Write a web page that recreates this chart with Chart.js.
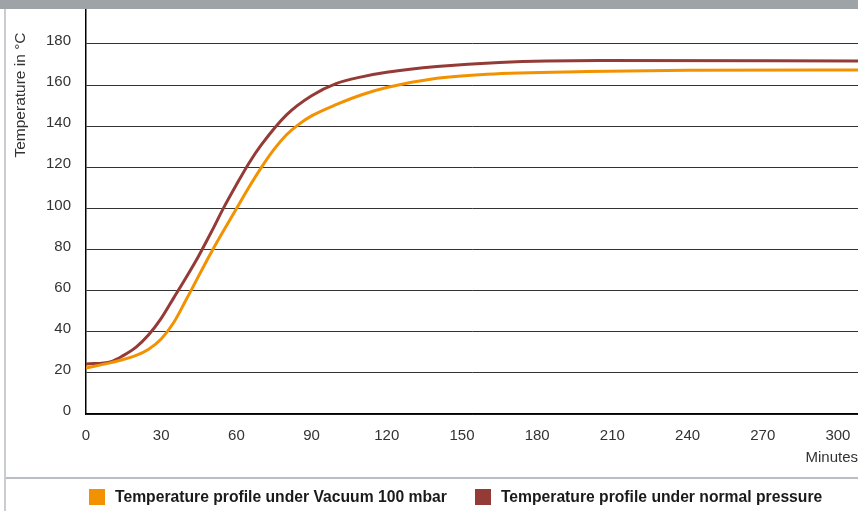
<!DOCTYPE html>
<html>
<head>
<meta charset="utf-8">
<title>Temperature profile</title>
<script src="https://cdn.jsdelivr.net/npm/chart.js@4/dist/chart.umd.min.js"></script>
<style>
  body { margin:0; width:858px; height:511px; overflow:hidden; background:#fff; position:relative;
         font-family:"Liberation Sans", Arial, sans-serif; }
  #topBar { position:absolute; left:0; top:0; width:858px; height:9px; background:#9ea3a8; }
  #leftRule { position:absolute; left:4px; top:9px; width:2px; height:502px; background:#c9ccd0; z-index:2; }
  #myChart { position:absolute; left:0; top:9px; }
  #legendBox { position:absolute; left:6px; top:477px; width:852px; height:32px; border-top:2px solid #babec2;
               display:flex; align-items:flex-start; padding-top:10px; padding-left:83px; box-sizing:border-box; }
  .legItem { display:flex; align-items:center; font-weight:bold; font-size:15.7px; color:#1a1a1a; line-height:16px; }
  .legItem + .legItem { margin-left:28px; }
  .legItem .box { width:16px; height:16px; margin-right:10px; }
</style>
</head>
<body>
<div id="topBar"></div>
<canvas id="myChart" width="858" height="469"></canvas>
<div id="leftRule"></div>
<div id="legendBox"></div>

<script>
// tick labels
const xTicks = [0, 30, 60, 90, 120, 150, 180, 210, 240, 270, 300];
const yTicks = [0, 20, 40, 60, 80, 100, 120, 140, 160, 180];

const seriesNames = ["Temperature profile under Vacuum 100 mbar", "Temperature profile under normal pressure"];
const seriesColors = ["#f39200", "#943b37"];
const yAxisTitle = "Temperature in °C";
const xAxisTitle = "Minutes";

// vacuum 100 mbar
const vacuumMinutes = [0, 10, 20, 25, 30, 35, 40, 50, 60, 65, 70, 75, 80, 85, 90, 100, 110, 120, 140, 160, 200, 240, 308];
const vacuumTemps   = [22.4, 25.0, 28.5, 31.5, 36.5, 44.5, 55.7, 78.7, 99.8, 110.3, 120.0, 128.7, 135.8, 141.0, 145.0, 150.6, 155.3, 158.8, 163.3, 165.3, 166.6, 167.2, 167.3];

// normal pressure
const normalMinutes = [0, 10, 15, 20, 25, 30, 35, 40, 45, 50, 55, 60, 65, 70, 80, 90, 100, 110, 120, 140, 165, 205, 308];
const normalTemps   = [24.3, 25.5, 28.5, 32.5, 38.5, 46.5, 56.5, 66.5, 77.0, 88.5, 100.5, 111.5, 122.0, 131.0, 145.5, 154.8, 160.8, 164.0, 166.2, 169.0, 171.0, 171.9, 171.7];

function toPoints(xs, ys) {
  return xs.map((x, i) => ({ x: x, y: ys[i] }));
}

// keep the plot area flush: no extra room for half-labels at the ends
function noEdgePadding(s) {
  s.paddingTop = 0;
  s.paddingBottom = 0;
  s.paddingLeft = 0;
  s.paddingRight = 0;
}

Chart.defaults.font.family = "'Liberation Sans', Arial, sans-serif";
Chart.defaults.font.size = 15;
Chart.defaults.color = "#333";

// rotated y title sitting near the top of the axis
const yTitle = {
  id: "yTitle",
  afterDraw(chart) {
    const ctx = chart.ctx;
    ctx.save();
    ctx.translate(21, chart.chartArea.top + 86);
    ctx.rotate(-Math.PI / 2);
    ctx.font = "15.5px 'Liberation Sans', Arial, sans-serif";
    ctx.fillStyle = "#333";
    ctx.textAlign = "center";
    ctx.textBaseline = "middle";
    ctx.fillText(yAxisTitle, 0, 0);
    ctx.restore();
  }
};

new Chart("myChart", {
  type: "line",
  data: {
    datasets: [{
      label: seriesNames[0],
      data: toPoints(vacuumMinutes, vacuumTemps),
      borderColor: seriesColors[0],
      borderWidth: 3,
      pointRadius: 0,
      fill: false,
      cubicInterpolationMode: "monotone"
    }, {
      label: seriesNames[1],
      data: toPoints(normalMinutes, normalTemps),
      borderColor: seriesColors[1],
      borderWidth: 3,
      pointRadius: 0,
      fill: false,
      cubicInterpolationMode: "monotone"
    }]
  },
  options: {
    responsive: false,
    animation: false,
    devicePixelRatio: 1,
    layout: { padding: 0 },
    plugins: {
      legend: { display: false },
      tooltip: { enabled: false }
    },
    scales: {
      x: {
        type: "linear",
        min: 0,
        max: 308,
        afterFit: s => { s.height = 64; noEdgePadding(s); },
        afterBuildTicks: s => { s.ticks = xTicks.map(v => ({ value: v })); },
        grid: { drawOnChartArea: false, drawTicks: false },
        border: { display: true, color: "#000", width: 1.5 },
        ticks: { padding: 13, color: "#333" },
        title: { display: true, text: xAxisTitle, align: "end", color: "#333", padding: { top: 11, bottom: 11 } }
      },
      y: {
        min: 0,
        max: 197,
        afterFit: s => { s.width = 86; noEdgePadding(s); },
        afterBuildTicks: s => { s.ticks = yTicks.map(v => ({ value: v })); },
        grid: { color: "#333", lineWidth: 1, drawTicks: false },
        border: { display: true, color: "#000", width: 1.5 },
        ticks: { padding: 15, labelOffset: -3, color: "#333" }
      }
    }
  },
  plugins: [yTitle]
});

// legend row under the chart
const legendBox = document.getElementById("legendBox");
seriesNames.forEach(function(name, i) {
  const item = document.createElement("div");
  item.className = "legItem";
  const box = document.createElement("span");
  box.className = "box";
  box.style.background = seriesColors[i];
  item.appendChild(box);
  item.appendChild(document.createTextNode(name));
  legendBox.appendChild(item);
});
</script>
</body>
</html>
